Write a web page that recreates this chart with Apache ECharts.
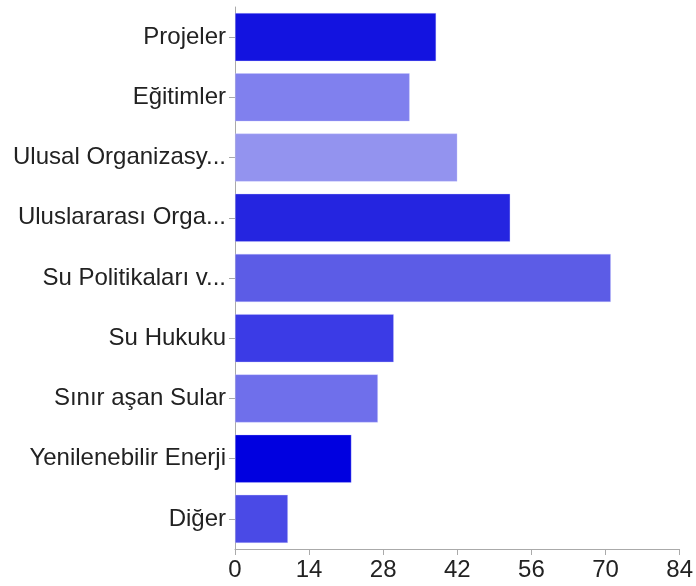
<!DOCTYPE html>
<html>
<head>
<meta charset="utf-8">
<script src="https://cdn.jsdelivr.net/npm/echarts@6/dist/echarts.min.js"></script>
<style>
html,body{margin:0;padding:0;background:#fff;}
#chart{width:696px;height:586px;}
</style>
</head>
<body>
<div id="chart"></div>
<script>
const categories = ["Projeler","Eğitimler","Ulusal Organizasy...","Uluslararası Orga...","Su Politikaları v...","Su Hukuku","Sınır aşan Sular","Yenilenebilir Enerji","Diğer"];
const values = [38, 33, 42, 52, 71, 30, 27, 22, 10];
const barColors = ["#1313E0","#8080EE","#9393EF","#2525E0","#5C5CE6","#3B3BE6","#6F6FEB","#0000E0","#4A4AE6"];
const xTicks = [0, 14, 28, 42, 56, 70, 84];

const chart = echarts.init(document.getElementById('chart'), null, {renderer:'canvas'});
const font = 'Liberation Sans, Arial, Helvetica, sans-serif';
chart.setOption({
  animation: false,
  grid: {left: 235, right: 13, top: 7, bottom: 37, containLabel: false},
  xAxis: {
    type: 'value',
    min: xTicks[0], max: xTicks[xTicks.length-1], interval: 14,
    axisLine: {show: true, lineStyle: {color: '#aaaaaa', width: 1}},
    axisTick: {show: true, length: 6, lineStyle: {color: '#aaaaaa'}},
    splitLine: {show: false},
    axisLabel: {color: '#222', fontSize: 24, fontFamily: font, margin: 9}
  },
  yAxis: {
    type: 'category',
    data: categories,
    inverse: true,
    axisLine: {show: true, lineStyle: {color: '#aaaaaa', width: 1}},
    axisTick: {show: true, length: 6, alignWithLabel: true, lineStyle: {color: '#aaaaaa'}},
    axisLabel: {color: '#222', fontSize: 24, fontFamily: font, margin: 9}
  },
  series: [{
    type: 'bar',
    barCategoryGap: '20%',
    data: values.map((v, i) => ({value: v, itemStyle: {color: barColors[i]}})),
    itemStyle: {borderColor: 'rgba(200,200,255,0.6)', borderWidth: 0.6}
  }]
});
</script>
</body>
</html>
